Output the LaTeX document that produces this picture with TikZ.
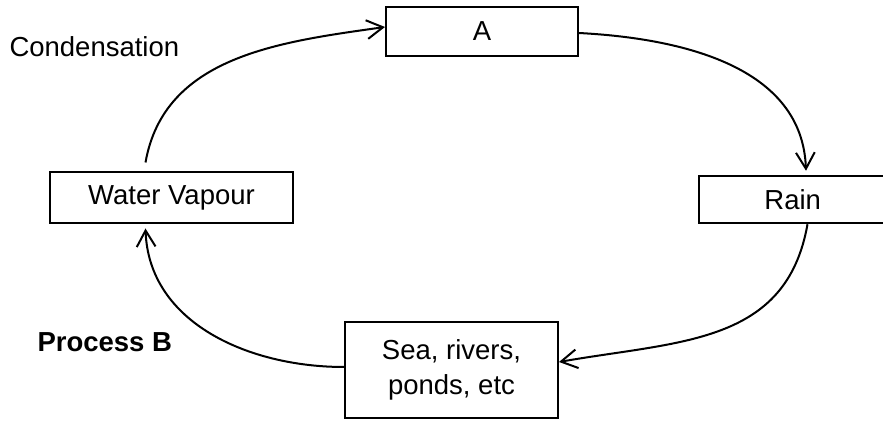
\documentclass[tikz,border=0pt]{standalone}
\usepackage{fontspec}
\setmainfont{Liberation Sans}
\usetikzlibrary{arrows.meta}

\begin{document}
\begin{tikzpicture}[x=0.4pt,y=0.4pt,
  stage/.style={draw,line width=0.8pt,inner sep=0pt,align=center,font=\fontsize{11}{14}\selectfont},
  flow/.style={line width=0.8pt,-{Straight Barb[length=6.5pt,width=7.5pt]}},
  tag/.style={anchor=west,inner sep=0pt,font=\fontsize{11}{13}\selectfont}]

\useasboundingbox (0,0) rectangle (883,421);
\clip (0,0) rectangle (883,421);

%boxes:
\node[stage,minimum width=76.8pt,minimum height=19.6pt] (A) at (482,389.5) {A};
\node[stage,minimum width=97.2pt,minimum height=20.4pt] (vapour) at (171.5,223) {Water Vapour};
\node[stage,minimum width=88pt,minimum height=19pt] (rain) at (809,221.5) {Rain\hspace*{13pt}};
\node[stage,minimum width=85.2pt,minimum height=38.4pt] (sea) at (451.5,51) {Sea, rivers,\\ponds, etc};

%labels:
\node[tag] (cond) at (9,374) {Condensation};
\node[tag,font=\fontsize{11}{13}\selectfont\bfseries] (procB) at (37,79) {Process B};

%cycle:
\draw[flow] ([xshift=-10.4pt,yshift=3.6pt]vapour.north) to[out=80,in=188] ([yshift=1.8pt]A.west);
\draw[flow] ([yshift=-0.6pt]A.east) to[out=-3,in=92] ([xshift=-1.2pt,yshift=1.6pt]rain.north);
\draw[flow] ([xshift=-0.6pt]rain.south) to[out=-100,in=10,looseness=1.1] ([yshift=3.2pt]sea.east);
\draw[flow] ([yshift=1.2pt]sea.west) to[out=180,in=-88] ([xshift=-10.4pt,yshift=-1.6pt]vapour.south);

\end{tikzpicture}
\end{document}
